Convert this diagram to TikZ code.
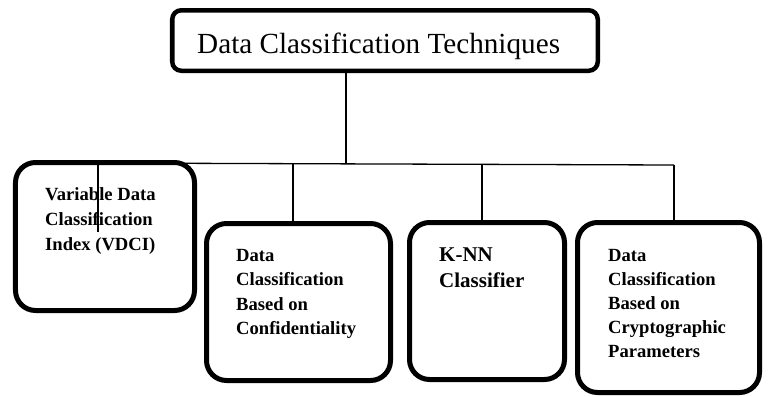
\documentclass[tikz,border=0pt]{standalone}
\usepackage{fontspec}
\setmainfont{Liberation Serif}
\begin{document}
\begin{tikzpicture}[x=1bp,y=-1bp,
  box/.style={draw=black,fill=white,line width=5bp,rounded corners=20bp,inner sep=0pt},
  topbox/.style={draw=black,fill=white,line width=4.5bp,rounded corners=9bp,inner sep=0pt},
  lbl/.style={inner sep=0pt,align=left,font=\bfseries\fontsize{18.6bp}{24.5bp}\selectfont},
  conn/.style={draw=black,line width=1.3bp}]
\useasboundingbox (0,0) rectangle (768,396);
% boxes
\node[topbox,minimum width=425.5bp,minimum height=60.5bp] (top) at (385,40.5) {};
\node[box,minimum width=179bp,minimum height=148bp] (b1) at (105,236.5) {};
\node[box,minimum width=184bp,minimum height=157bp] (b2) at (298.5,302) {};
\node[box,minimum width=155bp,minimum height=157bp] (b3) at (487,301) {};
\node[box,minimum width=182bp,minimum height=170bp] (b4) at (668.5,307.5) {};
% texts
\node[inner sep=0pt,anchor=base west,font=\fontsize{29.2bp}{32bp}\selectfont] (ttop) at (197,53) {Data Classification Techniques};
\node[lbl,anchor=north west,font=\bfseries\fontsize{18.6bp}{25bp}\selectfont] (t1) at (45,187.3) {Variable Data\\Classification\\Index (VDCI)};
\node[lbl,anchor=north west] (t2) at (236,248.7) {Data\\Classification\\Based on\\Confidentiality};
\node[lbl,anchor=north west,font=\bfseries\fontsize{21bp}{26bp}\selectfont] (t3) at (439,248) {K-NN\\Classifier};
\node[lbl,anchor=north west,font=\bfseries\fontsize{18.6bp}{24bp}\selectfont] (t4) at (608,248.7) {Data\\Classification\\Based on\\Cryptographic\\Parameters};
% connectors
\coordinate (j) at (346,164);
\coordinate (hl) at (98,163);
\coordinate (hr) at (674,165);
\coordinate (in1) at (98,232);
\draw[conn] (top.south -| j) -- (j);
\draw[conn] (hl) -- (hr);
\draw[conn] (hl) -- (in1);
\draw[conn] (293,164) -- (b2.north -| 293,0);
\draw[conn] (482,164.8) -- (b3.north -| 482,0);
\draw[conn] (hr) -- (b4.north -| hr);
\end{tikzpicture}
\end{document}
